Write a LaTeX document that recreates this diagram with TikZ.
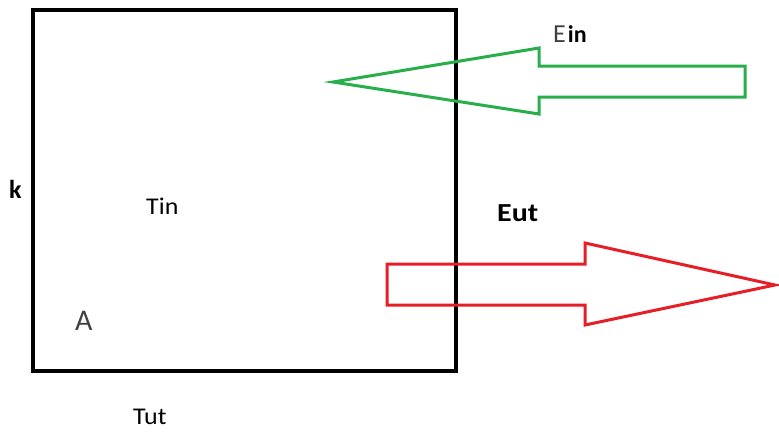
\documentclass[tikz,border=0pt]{standalone}
\usepackage{fontspec}
\setmainfont{Carlito}
\definecolor{pgreen}{RGB}{40,175,75}
\definecolor{pred}{RGB}{230,30,40}
\definecolor{tgrey}{RGB}{64,64,64}
\begin{document}
\begin{tikzpicture}[x=1pt,y=-1pt,
  lbl/.style={inner sep=0pt,font=\fontsize{24}{26}\selectfont},
  boxline/.style={draw=black,line width=4pt},
  arrowline/.style={line width=3pt,line join=miter}]
\useasboundingbox (0,0) rectangle (779,432);
\node[boxline,minimum width=423pt,minimum height=361pt,inner sep=0pt] (box) at (244,190.5) {};
% green arrow (Ein)
\draw[arrowline,draw=pgreen] (333,82) coordinate (gtip) -- (539,48) -- (539,66) -- (745,66) -- (745,97) -- (539,97) -- (539,114) -- cycle;
% red arrow (Eut)
\draw[arrowline,draw=pred] (387,264) -- (585,264) -- (585,243) -- (775,285) coordinate (rtip) -- (585,325) -- (585,305) -- (387,305) -- cycle;
\node[lbl,anchor=base west] (ein) at (553,42) {\textcolor{tgrey}{\fontsize{26}{28}\selectfont E}\hspace{2pt}\textbf{in}};
\node[lbl,anchor=base west,font=\fontsize{26}{28}\selectfont\bfseries] (eut) at (497,221) {\scalebox{1.15}[1]{Eut}};
\node[lbl,anchor=base west] (tin) at (146,214) {\scalebox{1.08}[1]{Tin}};
\node[lbl,anchor=base west] (tut) at (133,424) {\scalebox{1.08}[1]{Tut}};
\node[lbl,anchor=base west,font=\fontsize{26}{28}\selectfont\bfseries] (k) at (9,198) {k};
\node[lbl,anchor=base west,text=tgrey,font=\fontsize{30}{32}\selectfont] (a) at (75,330) {A};
\end{tikzpicture}
\end{document}
